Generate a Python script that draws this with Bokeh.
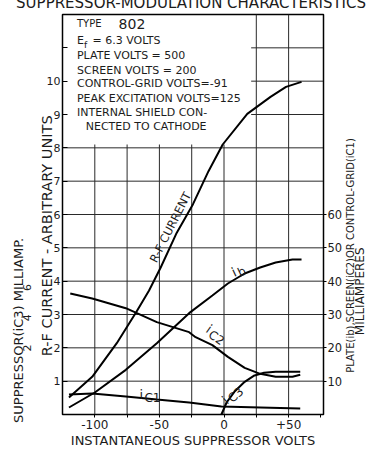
import math
from bokeh.plotting import figure
from bokeh.models import Range1d, LinearAxis, FixedTicker, Label
from bokeh.embed import file_html
from bokeh.resources import INLINE

# ---------------- data ----------------
# R-F current, arbitrary units (left scale)
rf_volts = [-120, -102, -83, -68, -58, -49, -37, -24, -12, -1, 18, 36, 48, 60]
rf_current = [0.51, 1.13, 2.14, 3.07, 3.72, 4.41, 5.42, 6.31, 7.30, 8.10, 9.02, 9.53, 9.83, 9.98]
# plate current ib, mA (right scale)
ib_volts = [-120, -100, -76, -52, -27, -9, 3, 16, 28, 40, 53, 60]
ib_ma = [2.1, 6.6, 13.4, 21.4, 30.4, 35.7, 39.3, 42.3, 44.1, 45.6, 46.5, 46.5]
# screen current ic2, mA (right scale)
ic2_volts = [-119, -102, -76, -52, -27, -22, -9, 3, 16, 28, 40, 53, 59]
ic2_ma = [36.3, 34.8, 31.9, 27.7, 24.7, 23.2, 20.8, 17.3, 14.0, 12.2, 11.3, 11.3, 11.9]
# control-grid current ic1, mA (right scale)
ic1_volts = [-120, -102, -76, -52, -27, -2, 28, 59]
ic1_ma = [6.0, 6.3, 5.4, 4.5, 3.6, 2.4, 2.1, 1.8]
# suppressor current ic3 (drawn on the right-hand grid)
ic3_volts = [-2, 2, 8, 16, 23, 31, 40, 59]
ic3_val = [0.0, 3.6, 6.8, 9.8, 11.6, 12.5, 12.8, 12.8]

x_ticks = [-100, -50, 0, 50]
x_tick_labels = ["-100", "-50", "0", "+50"]
x_minor = [-75, -25, 25, 75]
left_ticks = [1, 2, 3, 4, 5, 6, 7, 8, 9, 10]
right_ticks = [10, 20, 30, 40, 50, 60]
supp_ticks = [2, 4, 6]
grid_volts = [-100, -75, -50, -25, 0, 25, 50]
grid_levels = [1, 2, 3, 4, 5, 6, 7, 8, 9, 10, 11]

title_text = "SUPPRESSOR-MODULATION CHARACTERISTICS"
left_title = "R-F  CURRENT - ARBITRARY  UNITS"
supp_title = "SUPPRESSOR(iC3) MILLIAMP."
right_title = "PLATE(ib),SCREEN(iC2)OR CONTROL-GRID(iC1)"
right_title2 = "MILLIAMPERES"
x_title = "INSTANTANEOUS SUPPRESSOR VOLTS"
info_lines = ["PLATE  VOLTS = 500", "SCREEN  VOLTS = 200", "CONTROL-GRID  VOLTS=-91",
              "PEAK EXCITATION  VOLTS=125", "INTERNAL  SHIELD  CON-"]

FONT = "DejaVu Sans"
INK = "#1c1c1c"
VERT = math.pi / 2

p = figure(width=377, height=460, x_range=Range1d(-125, 77), y_range=Range1d(0, 12),
           output_backend="svg", toolbar_location=None,
           min_border_left=62, min_border_right=45, min_border_top=22, min_border_bottom=35)
p.styles = {"margin-top": "-10px"}
p.extra_y_ranges = {"ma": Range1d(0, 120), "supp": Range1d(-2.62, 23.8)}
p.xgrid.visible = False
p.ygrid.visible = False
p.outline_line_color = "black"
p.outline_line_width = 1.5


def style_labels(ax, size):
    ax.major_label_text_font = FONT
    ax.major_label_text_font_size = f"{size}px"
    ax.major_label_text_color = INK


# x axis
xa = p.xaxis[0]
xa.ticker = FixedTicker(ticks=x_ticks, minor_ticks=x_minor)
xa.major_label_overrides = {t: l for t, l in zip(x_ticks, x_tick_labels)}
xa.axis_label = x_title
xa.axis_label_text_font = FONT
xa.axis_label_text_font_style = "normal"
xa.axis_label_text_font_size = "13px"
xa.axis_label_text_color = INK
xa.axis_label_standoff = 1
style_labels(xa, 12)
xa.major_label_standoff = 2
xa.major_tick_in = 0
xa.major_tick_out = 3
xa.minor_tick_in = 0
xa.minor_tick_out = 3

# left axis (R-F units)
ya = p.yaxis[0]
ya.ticker = FixedTicker(ticks=left_ticks + [11], minor_ticks=[])
ya.major_label_overrides = {11: ""}
style_labels(ya, 11)
ya.major_label_standoff = 2
ya.major_tick_in = 5
ya.major_tick_out = 0


def text_axis(loc, pos, text, size, standoff, angle=None, rng="default"):
    ax = LinearAxis(y_range_name=rng) if loc in ("left", "right") else LinearAxis()
    ax.ticker = FixedTicker(ticks=pos if isinstance(pos, list) else [pos], minor_ticks=[])
    if text is not None:
        ax.major_label_overrides = {pos: text}
    ax.major_tick_line_color = None
    ax.minor_tick_line_color = None
    ax.axis_line_color = None
    ax.major_tick_in = 0
    ax.major_tick_out = 0
    ax.major_label_standoff = standoff
    if angle is not None:
        ax.major_label_orientation = angle
    style_labels(ax, size)
    p.add_layout(ax, loc)
    return ax


# left side: axis title, suppressor scale and its title
text_axis("left", 9.25, left_title, 14.5, -4, VERT)
text_axis("left", supp_ticks, None, 11, 1, VERT, rng="supp")
text_axis("left", 5.3, supp_title, 13, -2, VERT)

# right axis (milliamperes) and its titles
ra = LinearAxis(y_range_name="ma", ticker=FixedTicker(ticks=right_ticks, minor_ticks=[]))
style_labels(ra, 11.5)
ra.major_label_standoff = 1
ra.major_tick_in = 0
ra.major_tick_out = 3
p.add_layout(ra, "right")
text_axis("right", 1.25, right_title, 10, 5, VERT)
text_axis("right", 2.38, right_title2, 12, -4, VERT)

# chart title (cut at the top edge as in the scan)
text_axis("above", -25.5, title_text, 15, 3)

# grid (left clear behind the data box)
vx0, vx1, vy0, vy1 = [], [], [], []
for v in grid_volts:
    vx0.append(v); vx1.append(v); vy0.append(0); vy1.append(8.1 if v <= 0 else 12)
hx0, hx1, hy0, hy1 = [], [], [], []
for g in grid_levels:
    hx0.append(-125 if g <= 8 else 21); hx1.append(77); hy0.append(g); hy1.append(g)
p.segment(vx0, vy0, vx1, vy1, line_color="#2a2a2a", line_width=1)
p.segment(hx0, hy0, hx1, hy1, line_color="#2a2a2a", line_width=1)

# curves
p.line(rf_volts, rf_current, line_color="black", line_width=2)
p.line(ib_volts, ib_ma, y_range_name="ma", line_color="black", line_width=2)
p.line(ic2_volts, ic2_ma, y_range_name="ma", line_color="black", line_width=2)
p.line(ic1_volts, ic1_ma, y_range_name="ma", line_color="black", line_width=2)
p.line(ic3_volts, ic3_val, y_range_name="ma", line_color="black", line_width=2)


def lab(x, y, text, size=11, angle=0, align="left", baseline="middle", xo=0, yo=0):
    p.add_layout(Label(x=x, y=y, text=text, text_font=FONT, text_font_size=f"{size}px",
                       angle=angle, angle_units="deg", text_align=align,
                       text_baseline=baseline, text_color=INK, x_offset=xo, y_offset=yo))


def sub_lab(x, y, main, sub, angle, size=13, sub_size=12, main_w=5, drop=3):
    a = math.radians(angle)
    lab(x, y, main, size=size, angle=angle, baseline="alphabetic")
    xo = main_w * math.cos(a) + drop * math.sin(a)
    yo = main_w * math.sin(a) - drop * math.cos(a)
    lab(x, y, sub, size=sub_size, angle=angle, baseline="alphabetic", xo=xo, yo=yo)


# data box
x0 = -113.8
lab(x0, 11.73, "TYPE", size=10)
lab(-81.6, 11.73, "802", size=14)
lab(x0, 11.23, "E", size=11)
lab(-108.3, 11.08, "f", size=9)
lab(-101.8, 11.23, "= 6.3 VOLTS", size=11)
for i, t in enumerate(info_lines):
    lab(x0, [10.78, 10.33, 9.92, 9.47, 9.05][i], t, size=11)
lab(-107.0, 8.64, "NECTED  TO  CATHODE", size=11)

# curve labels
lab(-41.5, 5.62, "R-F CURRENT", size=11.5, angle=63, align="center")
sub_lab(6.5, 4.25, "i", "b", 25)
sub_lab(-12.8, 2.6, "i", "C2", -35)
sub_lab(-65.5, 0.6, "i", "C1", 0)
sub_lab(0.0, 0.39, "i", "C3", 42)

open("out.html", "w").write(file_html(p, INLINE))
